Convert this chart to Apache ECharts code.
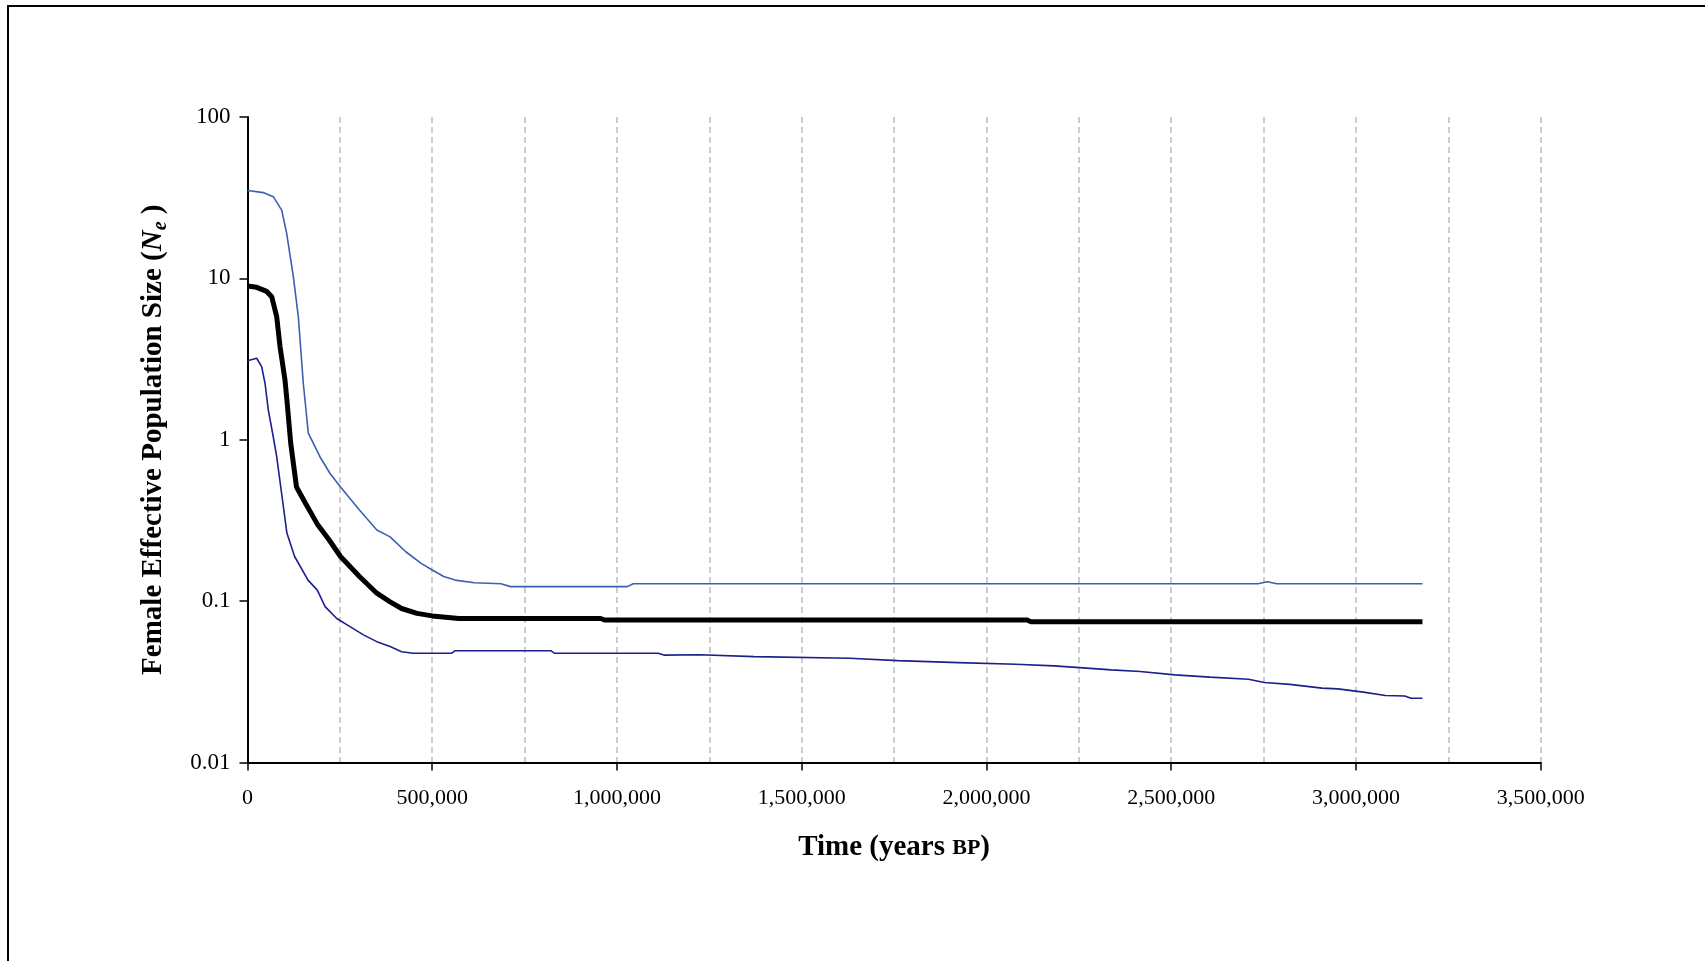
<!DOCTYPE html>
<html>
<head>
<meta charset="utf-8">
<script src="https://cdn.jsdelivr.net/npm/echarts@6/dist/echarts.min.js"></script>
<style>
html,body{margin:0;padding:0;background:#fff;}
#chart{width:1705px;height:961px;}
</style>
</head>
<body>
<div id="chart"></div>
<script>
// Time (years BP) and Ne values
const upperTime = [0, 42800, 69800, 92500, 106000, 124000, 137500, 151000, 164600, 196000, 223000, 251700, 303000, 350000, 386000, 427600, 469000, 500000, 531000, 562000, 614000, 686000, 712000, 1028000, 1044000, 2735000, 2760000, 2786000, 3180000];
const upperNe   = [35, 34, 32.1, 26.5, 19, 10.3, 5.8, 2.24, 1.1, 0.785, 0.62, 0.51, 0.367, 0.276, 0.25, 0.203, 0.172, 0.156, 0.142, 0.135, 0.130, 0.128, 0.123, 0.123, 0.128, 0.128, 0.132, 0.128, 0.128];

const meanTime = [0, 24800, 52000, 65500, 79000, 88000, 101500, 106600, 117000, 132600, 158000, 189000, 220600, 251700, 303000, 350000, 386000, 417000, 458700, 500000, 572000, 956000, 966000, 2110000, 2120000, 3180000];
const meanNe   = [8.97, 8.8, 8.3, 7.7, 5.8, 3.78, 2.34, 1.77, 0.95, 0.51, 0.40, 0.30, 0.24, 0.189, 0.142, 0.112, 0.099, 0.090, 0.084, 0.081, 0.078, 0.078, 0.0764, 0.0764, 0.0746, 0.0746];

const lowerTime = [0, 24800, 38300, 47400, 56300, 69800, 79000, 91000, 106600, 127500, 163800, 189000, 210000, 241500, 277400, 313700, 350000, 386000, 417000, 448500, 552000, 562000, 821000, 831000, 1111000, 1127000, 1224000, 1371000, 1630000, 1760000, 1924000, 2079000, 2183000, 2252000, 2338000, 2416000, 2510000, 2605000, 2709000, 2752000, 2821000, 2908000, 2951000, 3020000, 3080000, 3132000, 3149000, 3180000];
const lowerNe   = [3.09, 3.2, 2.84, 2.24, 1.53, 1.04, 0.785, 0.49, 0.264, 0.189, 0.135, 0.117, 0.0925, 0.078, 0.0695, 0.0618, 0.0561, 0.0523, 0.0486, 0.0475, 0.0475, 0.0493, 0.0493, 0.0475, 0.0475, 0.0463, 0.0465, 0.0453, 0.0443, 0.0428, 0.0416, 0.0406, 0.0397, 0.0387, 0.0375, 0.0366, 0.0349, 0.0338, 0.0328, 0.0313, 0.0305, 0.0289, 0.0286, 0.0273, 0.0260, 0.0258, 0.0250, 0.0250];

const yTickLabels = ['0.01', '0.1', '1', '10', '100'];

function pairs(t, v) { return t.map((x, i) => [x, v[i]]); }

const serif = '"Liberation Serif", "Times New Roman", serif';
const chart = echarts.init(document.getElementById('chart'));
chart.setOption({
  backgroundColor: '#ffffff',
  animation: false,
  graphic: [{
    type: 'rect',
    shape: { x: 8, y: 6, width: 2400, height: 2400 },
    style: { fill: 'none', stroke: '#000', lineWidth: 2 },
    silent: true,
    z: 100
  }],
  grid: { left: 247.5, right: 164.3, top: 117, bottom: 198.5 },
  xAxis: [{
    type: 'value',
    min: 0, max: 3500000, interval: 500000,
    axisLine: { show: true, lineStyle: { color: '#000', width: 2 } },
    axisTick: { show: true, length: 8, lineStyle: { color: '#000', width: 1.5 } },
    axisLabel: {
      margin: 25, fontFamily: serif, fontSize: 22, color: '#000',
      formatter: v => v.toLocaleString('en-US')
    },
    splitLine: { show: false },
    name: '{t|Time (years }{sc|BP}{t|)}',
    nameLocation: 'middle',
    nameGap: 71,
    nameTextStyle: {
      rich: {
        t: { fontFamily: serif, fontWeight: 'bold', fontSize: 29, color: '#000' },
        sc: { fontFamily: serif, fontWeight: 'bold', fontSize: 22, color: '#000' }
      }
    }
  }, {
    type: 'value',
    min: 0, max: 3500000, interval: 250000,
    show: true,
    axisLine: { show: false }, axisTick: { show: false }, axisLabel: { show: false },
    position: 'bottom',
    splitLine: { show: true, lineStyle: { color: '#bdbdbd', width: 1.5, type: [6, 4] } }
  }],
  yAxis: {
    type: 'log', logBase: 10, min: 0.01, max: 100,
    axisLine: { show: true, lineStyle: { color: '#000', width: 2 } },
    axisTick: { show: true, length: 8, lineStyle: { color: '#000', width: 1.5 } },
    axisLabel: {
      margin: 17, fontFamily: serif, fontSize: 23, color: '#000',
      formatter: v => {
        const e = Math.round(Math.log10(v));
        return yTickLabels[e + 2];
      }
    },
    splitLine: { show: false },
    name: '{b|Female Effective Population Size (}{i|N}{s|e}{b| )}',
    nameLocation: 'middle',
    nameGap: 77,
    nameTextStyle: {
      rich: {
        b: { fontFamily: serif, fontWeight: 'bold', fontSize: 29, color: '#000', lineHeight: 33 },
        i: { fontFamily: serif, fontWeight: 'bold', fontStyle: 'italic', fontSize: 29, color: '#000', lineHeight: 33 },
        s: { fontFamily: serif, fontWeight: 'bold', fontStyle: 'italic', fontSize: 20, color: '#000', lineHeight: 33, verticalAlign: 'bottom' }
      }
    }
  },
  series: [{
    type: 'line', name: 'upper', data: pairs(upperTime, upperNe),
    showSymbol: false, lineStyle: { color: '#3d5fb3', width: 1.6 }, z: 3
  }, {
    type: 'line', name: 'lower', data: pairs(lowerTime, lowerNe),
    showSymbol: false, lineStyle: { color: '#1c1f8c', width: 1.6 }, z: 3
  }, {
    type: 'line', name: 'mean', data: pairs(meanTime, meanNe),
    showSymbol: false, lineStyle: { color: '#000', width: 5 }, z: 4
  }]
});
</script>
</body>
</html>
